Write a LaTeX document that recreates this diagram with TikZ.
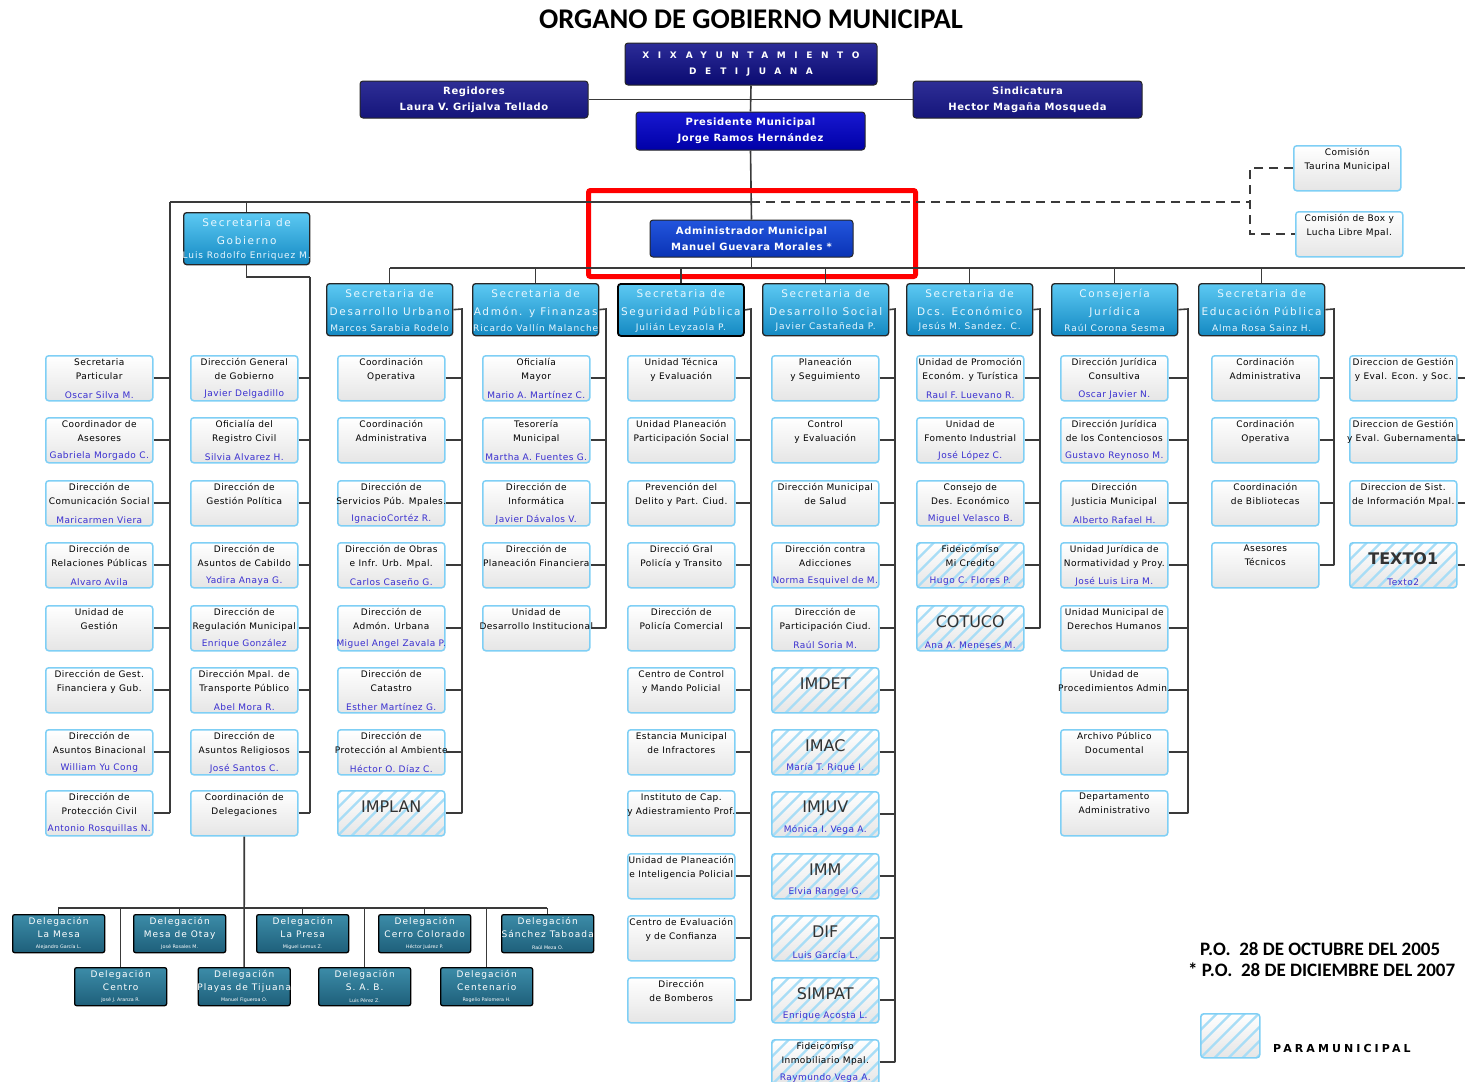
\documentclass[tikz,border=0pt]{standalone}
\usepackage{fontspec}
\setmainfont{DejaVu Sans}
\newfontfamily\boxf[LetterSpace=5]{DejaVu Sans}
\newfontfamily\secf[LetterSpace=16]{DejaVu Sans}
\newfontfamily\secnf[LetterSpace=10]{DejaVu Sans}
\newfontfamily\delf[LetterSpace=12]{DejaVu Sans}
\newfontfamily\topf[LetterSpace=6]{DejaVu Sans}
\newfontfamily\xixf[LetterSpace=95]{DejaVu Sans}
\newfontfamily\titlef{Carlito}
\newfontfamily\legf[LetterSpace=28]{DejaVu Sans}
\definecolor{cbord}{HTML}{7FCFF5}
\definecolor{pcol}{HTML}{3A2FD0}
\definecolor{hatchc}{HTML}{A8DDF6}
\definecolor{connc}{HTML}{3A3A3A}
\definecolor{stxt}{HTML}{E8F7FF}
\tikzset{
  conn/.style={draw=connc, line width=1.6pt},
  cbox/.style={anchor=north west, minimum width=107pt, minimum height=45pt, inner sep=0pt,
    rounded corners=3pt, draw=cbord, line width=1.5pt, top color=white, bottom color=black!10},
  hatch/.style={path picture={\foreach \i in {-70,-56,...,130}{\draw[draw=hatchc, line width=2.2pt]
      ([xshift=\i pt]path picture bounding box.south west) -- ++(70,-70);}}},
  ctext/.style={anchor=north, align=center, inner sep=1pt, font=\boxf\fontsize{9}{14}\selectfont},
  ptext/.style={anchor=south, align=center, inner sep=1pt, text=pcol, font=\boxf\fontsize{9}{10}\selectfont},
  bigtext/.style={anchor=center, inner sep=0pt, text=black!80, font=\fontsize{16}{17}\selectfont},
  sbox/.style={anchor=north west, minimum width=126pt, minimum height=52pt, inner sep=0pt,
    rounded corners=3pt, draw=black!85, line width=1.3pt, top color={rgb,255:red,92;green,201;blue,243},
    bottom color={rgb,255:red,20;green,137;blue,194}},
  stext/.style={anchor=north, align=center, inner sep=1pt, text=stxt, font=\secf\fontsize{10.5}{18}\selectfont},
  sptext/.style={anchor=south, align=center, inner sep=1pt, text=stxt, font=\secnf\fontsize{9}{10}\selectfont},
  dbox/.style={anchor=north west, minimum width=92pt, minimum height=38pt, inner sep=0pt,
    rounded corners=2pt, draw=black, line width=1.3pt, top color={rgb,255:red,60;green,140;blue,168},
    bottom color={rgb,255:red,30;green,95;blue,122}},
  dtext/.style={anchor=north, align=center, inner sep=1pt, text=white, font=\delf\fontsize{9}{13}\selectfont},
  dptext/.style={anchor=south, align=center, inner sep=1pt, text=white, font=\fontsize{4.8}{5}\selectfont},
  topbox/.style={align=center, inner sep=0pt, rounded corners=3pt, draw=black!85, line width=1pt,
    text=white, font=\topf\bfseries\fontsize{10}{16}\selectfont},
}
\newcommand\chbox[7][]{%
  \node[cbox,#1] (#2) at (#3,#4) {};
  \node[ctext] (#2t) at ([yshift=-2pt]#2.north) {#5\\#6};
  \node[ptext] (#2p) at ([yshift=1.5pt]#2.south) {#7};}
\newcommand\hatbox[5]{%
  \node[cbox,hatch] (#1) at (#2,#3) {};
  \node[bigtext] (#1t) at ([yshift=-17pt]#1.north) {#4};
  \node[ptext] (#1p) at ([yshift=1.5pt]#1.south) {#5};}
\newcommand\secbox[7][]{%
  \node[sbox,#1] (#2) at (#3,#4) {};
  \node[stext] (#2t) at ([yshift=-5pt]#2.north) {#5\\#6};
  \node[sptext] (#2p) at ([yshift=3.5pt]#2.south) {#7};}
\newcommand\delbox[5]{%
  \node[dbox] (#1) at (#2,#3) {};
  \node[dtext] (#1t) at ([yshift=-2pt]#1.north) {Delegación\\#4};
  \node[dptext] (#1p) at ([yshift=2.5pt]#1.south) {#5};}
\begin{document}
\begin{tikzpicture}[x=1pt,y=-1pt]
\useasboundingbox (0,0) rectangle (1465,1082);
% title
\node[font=\titlef\bfseries\fontsize{28.5}{30}\selectfont, inner sep=0pt] (title) at (751,19) {ORGANO DE GOBIERNO MUNICIPAL};
% top boxes
\node[topbox, minimum width=252pt, minimum height=42pt, top color={rgb,255:red,44;green,44;blue,152}, bottom color={rgb,255:red,10;green,10;blue,112},
  font=\xixf\bfseries\fontsize{9}{16}\selectfont] (xix) at (751,64) {XIX\quad AYUNTAMIENTO\\DE\quad TIJUANA};
\node[topbox, minimum width=228pt, minimum height=37pt, top color={rgb,255:red,46;green,46;blue,150}, bottom color={rgb,255:red,21;green,21;blue,122}] (reg) at (474,99.5) {Regidores\\Laura V. Grijalva Tellado};
\node[topbox, minimum width=229pt, minimum height=37pt, top color={rgb,255:red,46;green,46;blue,150}, bottom color={rgb,255:red,21;green,21;blue,122}] (sind) at (1027.5,99.5) {Sindicatura\\Hector Magaña Mosqueda};
\node[topbox, minimum width=229pt, minimum height=38pt, top color={rgb,255:red,24;green,24;blue,208}, bottom color={rgb,255:red,0;green,0;blue,168}] (pres) at (750.5,131) {Presidente Municipal\\Jorge Ramos Hernández};
\node[topbox, minimum width=203pt, minimum height=37pt, top color={rgb,255:red,34;green,85;blue,221}, bottom color={rgb,255:red,10;green,51;blue,181}] (adm) at (751.5,238.5) {Administrador Municipal\\Manuel Guevara Morales *};
\draw[conn] (reg.east) -- (sind.west);
\draw[conn] (xix.south) -- (pres.north);
\draw[conn] (pres.south) -- (adm.north);
% red frame
\node[draw=red, line width=5pt, rounded corners=2pt, minimum width=327pt, minimum height=86pt, inner sep=0pt] (redframe) at (752,233.5) {};
% commissions
\chbox{com1}{1293}{145}{Comisión}{Taurina Municipal}{}
\chbox{com2}{1295}{211}{Comisión de Box y}{Lucha Libre Mpal.}{}
\coordinate (j1) at (751,202);
\coordinate (dj) at (1250,202);
\draw[conn, dash pattern=on 9pt off 6pt] (j1) -- (dj);
\draw[conn, dash pattern=on 9pt off 6pt] (com1.west) -| (dj |- com2.west) -- (com2.west);
% Secretaria de Gobierno
\coordinate (gA) at (170,202);
\coordinate (gB) at (310,277);
\secbox{gob}{183}{212}{Secretaria de}{Gobierno}{Luis Rodolfo Enriquez M.}
\draw[conn] (j1) -- (gA);
\draw[conn] (gob.north) -- (gob.north |- gA);
\draw[conn] (gob.south) |- (gB);
\chbox{a1}{45}{355}{Secretaria}{Particular}{Oscar Silva M.}
\chbox{a2}{45}{417}{Coordinador de}{Asesores}{Gabriela Morgado C.}
\chbox{a3}{45}{480}{Dirección de}{Comunicación Social}{Maricarmen Viera}
\chbox{a4}{45}{542}{Dirección de}{Relaciones Públicas}{Alvaro Avila}
\chbox{a5}{45}{605}{Unidad de}{Gestión}{}
\chbox{a6}{45}{667}{Dirección de Gest.}{Financiera y Gub.}{}
\chbox{a7}{45}{729}{Dirección de}{Asuntos Binacional}{William Yu Cong}
\chbox{a8}{45}{790}{Dirección de}{Protección Civil}{Antonio Rosquillas N.}
\chbox{b1}{190}{355}{Dirección General}{de Gobierno}{Javier Delgadillo}
\chbox{b2}{190}{417}{Oficialía del}{Registro Civil}{Silvia Alvarez H.}
\chbox{b3}{190}{480}{Dirección de}{Gestión Política}{}
\chbox{b4}{190}{542}{Dirección de}{Asuntos de Cabildo}{Yadira Anaya G.}
\chbox{b5}{190}{605}{Dirección de}{Regulación Municipal}{Enrique González}
\chbox{b6}{190}{667}{Dirección Mpal. de}{Transporte Público}{Abel Mora R.}
\chbox{b7}{190}{729}{Dirección de}{Asuntos Religiosos}{José Santos C.}
\chbox{b8}{190}{790}{Coordinación de}{Delegaciones}{}
\draw[conn] (gA) -- (gA |- a8.east);
\draw[conn] (gB) -- (gB |- b8.east);
\foreach \n in {a1,a2,a3,a4,a5,a6,a7,a8} \draw[conn] (\n.east) -- (\n.east -| gA);
\foreach \n in {b1,b2,b3,b4,b5,b6,b7,b8} \draw[conn] (\n.east) -- (\n.east -| gB);
% delegaciones
\delbox{dmesa}{12}{914}{La Mesa}{Alejandro García L.}
\delbox{dotay}{133}{914}{Mesa de Otay}{José Rosales M.}
\delbox{dpresa}{256}{914}{La Presa}{Miguel Lemus Z.}
\delbox{dcerro}{378}{914}{Cerro Colorado}{Héctor Juárez P.}
\delbox{dsanchez}{501}{914}{Sánchez Taboada}{Raúl Meza O.}
\delbox{dcentro}{74}{967}{Centro}{José J. Aranza R.}
\delbox{dplayas}{197.5}{967}{Playas de Tijuana}{Manuel Figueroa O.}
\delbox{dsab}{318}{967}{S. A. B.}{Luis Pérez Z.}
\delbox{dcent}{440}{967}{Centenario}{Rogelio Palomera H.}
\coordinate (dl) at (58,908);
\coordinate (dr) at (547,908);
\draw[conn] (dl) -- (dr);
\draw[conn] (b8.south) -- (dplayas.north);
\foreach \n in {dmesa,dotay,dpresa,dcerro,dsanchez,dcentro,dsab,dcent} \draw[conn] (\n.north) -- (\n.north |- dl);
% secretarias row
\coordinate (rowL) at (390,268);
\coordinate (rowR) at (1465,268);
\draw[conn] (rowL) -- (rowR);
\draw[conn] (adm.south) -- (adm.south |- rowL);
\secbox{sdu}{326}{283}{Secretaria de}{Desarrollo Urbano}{Marcos Sarabia Rodelo}
\secbox{saf}{472}{283}{Secretaria de}{Admón. y Finanzas}{Ricardo Vallín Malanche}
\secbox[line width=1.8pt, draw=black]{ssp}{617}{283}{Secretaria de}{Seguridad Pública}{Julián Leyzaola P.}
\secbox{sds}{762}{283}{Secretaria de}{Desarrollo Social}{Javier Castañeda P.}
\secbox{sde}{906}{283}{Secretaria de}{Dcs. Económico}{Jesús M. Sandez. C.}
\secbox{scj}{1051}{283}{Consejería}{Jurídica}{Raúl Corona Sesma}
\secbox{sep}{1198}{283}{Secretaria de}{Educación Pública}{Alma Rosa Sainz H.}
\foreach \n in {sdu,saf,ssp,sds,sde,scj,sep} \draw[conn] (\n.north) -- (\n.north |- rowL);
\coordinate (tDU) at (462,309);
\coordinate (tAF) at (606,309);
\coordinate (tSP) at (751,309);
\coordinate (tDS) at (895,309);
\coordinate (tDE) at (1040,309);
\coordinate (tCJ) at (1188,309);
\coordinate (tEP) at (1334,309);
\coordinate (eR) at (1465,309);
% Desarrollo Urbano
\chbox{u1}{337}{355}{Coordinación}{Operativa}{}
\chbox{u2}{337}{417}{Coordinación}{Administrativa}{}
\chbox{u3}{337}{480}{Dirección de}{Servicios Púb. Mpales.}{IgnacioCortéz R.}
\chbox{u4}{337}{542}{Dirección de Obras}{e Infr. Urb. Mpal.}{Carlos Caseño G.}
\chbox{u5}{337}{605}{Dirección de}{Admón. Urbana}{Miguel Angel Zavala P.}
\chbox{u6}{337}{667}{Dirección de}{Catastro}{Esther Martínez G.}
\chbox{u7}{337}{729}{Dirección de}{Protección al Ambiente}{Héctor O. Díaz C.}
\hatbox{u8}{337}{790}{IMPLAN}{}
\draw[conn] (sdu.east) -- (tDU) -- (tDU |- u8.east);
\foreach \n in {u1,u2,u3,u4,u5,u6,u7,u8} \draw[conn] (\n.east) -- (\n.east -| tDU);
% Admon y Finanzas
\chbox{f1}{482}{355}{Oficialía}{Mayor}{Mario A. Martínez C.}
\chbox{f2}{482}{417}{Tesorería}{Municipal}{Martha A. Fuentes G.}
\chbox{f3}{482}{480}{Dirección de}{Informática}{Javier Dávalos V.}
\chbox{f4}{482}{542}{Dirección de}{Planeación Financiera}{}
\chbox{f5}{482}{605}{Unidad de}{Desarrollo Institucional}{}
\draw[conn] (saf.east) -- (tAF) -- (tAF |- f5.east);
\foreach \n in {f1,f2,f3,f4,f5} \draw[conn] (\n.east) -- (\n.east -| tAF);
% Seguridad Publica
\chbox{p1}{627}{355}{Unidad Técnica}{y Evaluación}{}
\chbox{p2}{627}{417}{Unidad Planeación}{Participación Social}{}
\chbox{p3}{627}{480}{Prevención del}{Delito y Part. Ciud.}{}
\chbox{p4}{627}{542}{Direcció Gral}{Policía y Transito}{}
\chbox{p5}{627}{605}{Dirección de}{Policía Comercial}{}
\chbox{p6}{627}{667}{Centro de Control}{y Mando Policial}{}
\chbox{p7}{627}{729}{Estancia Municipal}{de Infractores}{}
\chbox{p8}{627}{790}{Instituto de Cap.}{y Adiestramiento Prof.}{}
\chbox{p9}{627}{853}{Unidad de Planeación}{e Inteligencia Policial}{}
\chbox{p10}{627}{915}{Centro de Evaluación}{y de Confianza}{}
\chbox{p11}{627}{977}{Dirección}{de Bomberos}{}
\draw[conn] (ssp.east) -- (tSP) -- (tSP |- p11.east);
\foreach \n in {p1,p2,p3,p4,p5,p6,p7,p8,p9,p10,p11} \draw[conn] (\n.east) -- (\n.east -| tSP);
% Desarrollo Social
\chbox{s1}{771}{355}{Planeación}{y Seguimiento}{}
\chbox{s2}{771}{417}{Control}{y Evaluación}{}
\chbox{s3}{771}{480}{Dirección Municipal}{de Salud}{}
\chbox{s4}{771}{542}{Dirección contra}{Adicciones}{Norma Esquivel de M.}
\chbox{s5}{771}{605}{Dirección de}{Participación Ciud.}{Raúl Soria M.}
\hatbox{s6}{771}{667}{IMDET}{}
\hatbox{s7}{771}{729}{IMAC}{María T. Riqué I.}
\hatbox{s8}{771}{791}{IMJUV}{Mónica I. Vega A.}
\hatbox{s9}{771}{853}{IMM}{Elvia Rangel G.}
\hatbox{s10}{771}{915}{DIF}{Luis García L.}
\hatbox{s11}{771}{977}{SIMPAT}{Enrique Acosta L.}
\chbox[hatch]{s12}{771}{1039}{Fideicomiso}{Inmobiliario Mpal.}{Raymundo Vega A.}
\draw[conn] (sds.east) -- (tDS) -- (tDS |- s12.east);
\foreach \n in {s1,s2,s3,s4,s5,s6,s7,s8,s9,s10,s11,s12} \draw[conn] (\n.east) -- (\n.east -| tDS);
% Des. Economico
\chbox{e1}{916}{355}{Unidad de Promoción}{Económ. y Turística}{Raul F. Luevano R.}
\chbox{e2}{916}{417}{Unidad de}{Fomento Industrial}{José López C.}
\chbox{e3}{916}{480}{Consejo de}{Des. Económico}{Miguel Velasco B.}
\chbox[hatch]{e4}{916}{542}{Fideicomiso}{Mi Credito}{Hugo C. Flores P.}
\hatbox{e5}{916}{605}{COTUCO}{Ana A. Meneses M.}
\draw[conn] (sde.east) -- (tDE) -- (tDE |- e5.east);
\foreach \n in {e1,e2,e3,e4,e5} \draw[conn] (\n.east) -- (\n.east -| tDE);
% Consejeria Juridica
\chbox{j1b}{1060}{355}{Dirección Jurídica}{Consultiva}{Oscar Javier N.}
\chbox{j2}{1060}{417}{Dirección Jurídica}{de los Contenciosos}{Gustavo Reynoso M.}
\chbox{j3}{1060}{480}{Dirección}{Justicia Municipal}{Alberto Rafael H.}
\chbox{j4}{1060}{542}{Unidad Jurídica de}{Normatividad y Proy.}{José Luis Lira M.}
\chbox{j5}{1060}{605}{Unidad Municipal de}{Derechos Humanos}{}
\chbox{j6}{1060}{667}{Unidad de}{Procedimientos Admin.}{}
\chbox{j7}{1060}{729}{Archivo Público}{Documental}{}
\chbox{j8}{1060}{790}{Departamento}{Administrativo}{}
\draw[conn] (scj.east) -- (tCJ) -- (tCJ |- j8.east);
\foreach \n in {j1b,j2,j3,j4,j5,j6,j7,j8} \draw[conn] (\n.east) -- (\n.east -| tCJ);
% Educacion Publica
\chbox{d1}{1211}{355}{Cordinación}{Administrativa}{}
\chbox{d2}{1211}{417}{Cordinación}{Operativa}{}
\chbox{d3}{1211}{480}{Coordinación}{de Bibliotecas}{}
\chbox{d4}{1211}{542}{Asesores}{Técnicos}{}
\draw[conn] (sep.east) -- (tEP) -- (tEP |- d4.east);
\foreach \n in {d1,d2,d3,d4} \draw[conn] (\n.east) -- (\n.east -| tEP);
\chbox{g1}{1349}{355}{Direccion de Gestión}{y Eval. Econ. y Soc.}{}
\chbox{g2}{1349}{417}{Direccion de Gestión}{y Eval. Gubernamental}{}
\chbox{g3}{1349}{480}{Direccion de Sist.}{de Información Mpal.}{}
\node[cbox,hatch] (g4) at (1349,542) {};
\node[bigtext, font=\bfseries\fontsize{16}{17}\selectfont] (g4t) at ([yshift=-17pt]g4.north) {TEXTO1};
\node[ptext] (g4p) at ([yshift=1.5pt]g4.south) {Texto2};
\foreach \n in {g1,g2,g3,g4} \draw[conn] (\n.east) -- (\n.east -| eR);
% legend
\node[anchor=west, inner sep=0pt, font=\titlef\bfseries\fontsize{19}{20}\selectfont] (po1) at (1200,949) {P.O.~~28 DE OCTUBRE DEL 2005};
\node[anchor=west, inner sep=0pt, font=\titlef\bfseries\fontsize{19}{20}\selectfont] (po2) at (1188,970) {* P.O.~~28 DE DICIEMBRE DEL 2007};
\node[cbox, hatch, minimum width=59pt, minimum height=44pt] (leg) at (1200,1013) {};
\node[anchor=west, inner sep=0pt, font=\legf\bfseries\fontsize{11}{12}\selectfont] (legt) at (1273,1048) {PARAMUNICIPAL};
\end{tikzpicture}
\end{document}
